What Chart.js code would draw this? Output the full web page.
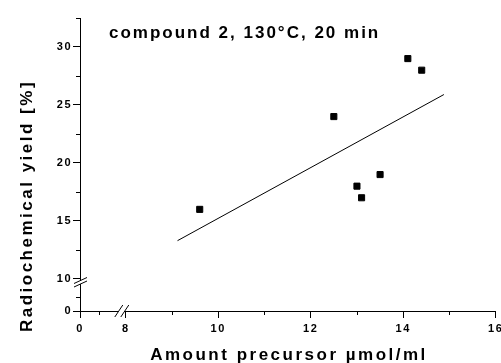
<!DOCTYPE html>
<html lang="en">
<head>
  <meta charset="UTF-8">
  <title>Radiochemical yield vs. amount precursor</title>
  <script src="https://cdn.jsdelivr.net/npm/chart.js"></script>
  <style>
    body { margin: 0; background: #fff; }
  </style>
</head>
<body>
  <canvas id="yieldChart" width="501" height="363"></canvas>

  <script>
    // measured points
    const precursor = [9.6, 12.5, 13.0, 13.1, 13.5, 14.1, 14.4];
    const yieldPct = [16, 24, 18, 17, 19, 29, 28];
    // linear fit, ends
    const fitX = [9.12, 14.88];
    const fitY = [13.3, 25.9];

    // broken axes: low part + high part
    const xLowMajor = [0], xLowMinor = [4];
    const xHighMajor = [8, 10, 12, 14, 16], xHighMinor = [9, 11, 13, 15];
    const yLowMajor = [0], yLowMinor = [5];
    const yHighMajor = [10, 15, 20, 25, 30], yHighMinor = [12.5, 17.5, 22.5, 27.5, 32.5];

    const annotation = 'compound 2, 130°C, 20 min';
    const xTitle = 'Amount precursor µmol/ml';
    const yTitle = 'Radiochemical yield [%]';

    const FONT = 'Arial, "Liberation Sans", sans-serif';

    const axis = (pos, weight, min, max, major, minor, size) => ({
      type: 'linear',
      position: pos,
      stack: pos,
      stackWeight: weight,
      min,
      max,
      border: { color: '#000', width: 1 },
      grid: {
        drawOnChartArea: false,
        tickLength: 7,
        tickWidth: 1,
        tickColor: c => (c.tick && major.includes(c.tick.value)) ? '#000' : 'rgba(0,0,0,0)'
      },
      ticks: {
        color: '#000',
        autoSkip: false,
        maxRotation: 0,
        padding: pos === 'left' ? 1 : 4,
        font: { family: FONT, weight: 'bold', size: 11 },
        callback: v => major.includes(v) ? String(v) : ''
      },
      afterBuildTicks: s => {
        s.ticks = major.concat(minor).sort((a, b) => a - b).map(v => ({ value: v }));
      },
      afterFit: s => {
        if (pos === 'left') s.width = size; else s.height = size;
        s.paddingLeft = s.paddingRight = s.paddingTop = s.paddingBottom = 0;
      }
    });

    const decor = {
      id: 'decor',
      beforeDraw(chart) {
        chart.ctx.letterSpacing = '1.5px';
      },
      afterDraw(chart) {
        const ctx = chart.ctx;
        const sc = chart.scales;
        ctx.save();
        ctx.strokeStyle = '#000';
        ctx.lineWidth = 1;

        // short minor ticks
        const minorX = [[sc.x, xLowMinor], [sc.x2, xHighMinor]];
        minorX.forEach(([s, vals]) => vals.forEach(v => {
          const px = Math.round(s.getPixelForValue(v)) + 0.5;
          ctx.beginPath();
          ctx.moveTo(px, s.top);
          ctx.lineTo(px, s.top + 4);
          ctx.stroke();
        }));
        const minorY = [[sc.y, yLowMinor], [sc.y2, yHighMinor]];
        minorY.forEach(([s, vals]) => vals.forEach(v => {
          const py = Math.round(s.getPixelForValue(v)) + 0.5;
          ctx.beginPath();
          ctx.moveTo(s.right - 4, py);
          ctx.lineTo(s.right, py);
          ctx.stroke();
        }));

        // axis breaks
        const bx = sc.x2.left, by = sc.x.top;
        ctx.fillStyle = '#fff';
        ctx.beginPath();
        ctx.moveTo(bx - 4, by + 6); ctx.lineTo(bx + 4, by - 6);
        ctx.lineTo(bx + 10, by - 6); ctx.lineTo(bx + 2, by + 6);
        ctx.closePath();
        ctx.fill();
        ctx.beginPath();
        ctx.moveTo(bx - 4, by + 6); ctx.lineTo(bx + 4, by - 6);
        ctx.moveTo(bx + 2, by + 6); ctx.lineTo(bx + 10, by - 6);
        ctx.stroke();

        const ax = sc.y.right, ay = sc.y2.bottom;
        ctx.beginPath();
        ctx.moveTo(ax - 6, ay + 0.5); ctx.lineTo(ax + 7, ay - 5.5);
        ctx.lineTo(ax + 7, ay - 2); ctx.lineTo(ax - 6, ay + 4);
        ctx.closePath();
        ctx.fill();
        ctx.beginPath();
        ctx.moveTo(ax - 6, ay + 0.5); ctx.lineTo(ax + 7, ay - 5.5);
        ctx.moveTo(ax - 6, ay + 4); ctx.lineTo(ax + 7, ay - 2);
        ctx.stroke();

        // texts
        ctx.fillStyle = '#000';
        ctx.font = 'bold 17px ' + FONT;
        ctx.textBaseline = 'alphabetic';
        ctx.letterSpacing = '2px';
        ctx.textAlign = 'left';
        ctx.fillText(annotation, 109, 38);

        ctx.letterSpacing = '2.5px';
        ctx.textAlign = 'center';
        ctx.fillText(xTitle, 289, 360);

        ctx.translate(32, 206);
        ctx.rotate(-Math.PI / 2);
        ctx.fillText(yTitle, 0, 0);
        ctx.restore();
      }
    };

    new Chart(document.getElementById('yieldChart'), {
      type: 'scatter',
      data: {
        datasets: [{
          data: precursor.map((x, i) => ({ x, y: yieldPct[i] })),
          xAxisID: 'x2',
          yAxisID: 'y2',
          pointStyle: 'rect',
          pointRadius: 4.3,
          backgroundColor: '#000',
          borderColor: '#000',
          borderWidth: 1,
          showLine: false
        }, {
          data: fitX.map((x, i) => ({ x, y: fitY[i] })),
          xAxisID: 'x2',
          yAxisID: 'y2',
          showLine: true,
          pointRadius: 0,
          borderColor: '#000',
          borderWidth: 1
        }]
      },
      options: {
        responsive: false,
        animation: false,
        layout: { padding: { left: 40, top: 18, right: 3, bottom: 0 } },
        plugins: {
          legend: { display: false },
          tooltip: { enabled: false }
        },
        scales: {
          x: axis('bottom', 39, 0, 8, xLowMajor, xLowMinor, 52),
          x2: axis('bottom', 379, 7.85, 16, xHighMajor, xHighMinor, 52),
          y: axis('left', 28, 0, 10, yLowMajor, yLowMinor, 40),
          y2: axis('left', 265, 9.65, 32.5, yHighMajor, yHighMinor, 40)
        }
      },
      plugins: [decor]
    });
  </script>
</body>
</html>
